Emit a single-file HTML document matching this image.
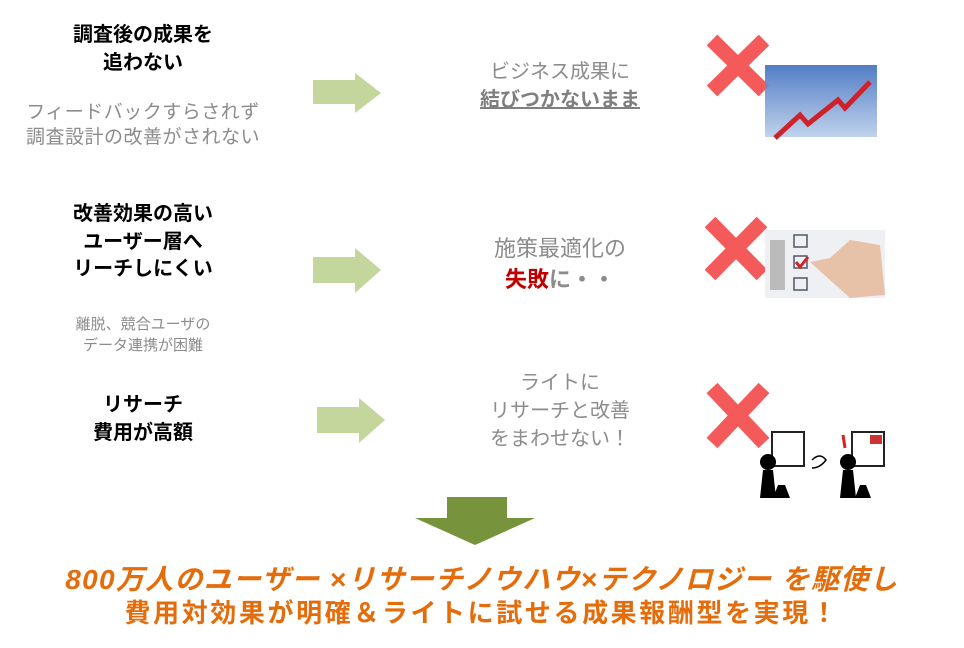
<!DOCTYPE html>
<html><head><meta charset="utf-8"><style>
body{margin:0;width:964px;height:648px;background:#fff;position:relative;overflow:hidden;font-family:"Liberation Sans","Noto Sans CJK JP",sans-serif}
.t{position:absolute;text-align:center;white-space:nowrap}
.b{font-weight:bold;color:#000;font-size:20px;line-height:28px}
.g{color:#8c8c8c}
.arr{position:absolute}
</style></head><body>
<div class="t b" style="left:43px;width:200px;top:21px">調査後の成果を<br>追わない</div>
<div class="t g" style="left:3px;width:280px;top:100px;font-size:19px;line-height:25px;letter-spacing:0.5px">フィードバックすらされず<br>調査設計の改善がされない</div>
<div class="t b" style="left:43px;width:200px;top:201px;line-height:27.5px">改善効果の高い<br>ユーザー層へ<br>リーチしにくい</div>
<div class="t g" style="left:43px;width:200px;top:314px;font-size:15px;line-height:21px">離脱、競合ユーザの<br>データ連携が困難</div>
<div class="t b" style="left:43px;width:200px;top:391px">リサーチ<br>費用が高額</div>

<svg class="arr" style="left:0;top:0" width="964" height="648">
<polygon points="313,80 355,80 355,73 381,93 355,113 355,104 313,104" fill="#c3d69b"/>
<polygon points="313,257 355,257 355,248 381,270 355,293 355,283 313,283" fill="#c3d69b"/>
<polygon points="317,407 359,407 359,398 385,420 359,443 359,433 317,433" fill="#c3d69b"/>
<polygon points="447,497 507,497 507,518 535,518 475,545 415,518 447,518" fill="#77933c"/>
<g stroke="#f45a5a" stroke-width="15" stroke-linecap="butt">
<line x1="712" y1="40" x2="764" y2="91"/><line x1="764" y1="40" x2="712" y2="91"/>
<line x1="710" y1="222" x2="762" y2="275"/><line x1="762" y1="222" x2="710" y2="275"/>
<line x1="712" y1="388" x2="764" y2="443"/><line x1="764" y1="388" x2="712" y2="443"/>
</g>
<defs><linearGradient id="bl" x1="0" y1="0" x2="0" y2="1"><stop offset="0" stop-color="#3f6fbf"/><stop offset="1" stop-color="#b9cdea"/></linearGradient></defs>
<rect x="765" y="65" width="112" height="72" fill="url(#bl)" opacity="0.9"/>
<polyline points="775,138 800,115 808,124 838,100 845,108 870,82" fill="none" stroke="#d0202a" stroke-width="5"/>
<rect x="765" y="230" width="120" height="68" fill="#eef0f4"/>
<rect x="770" y="240" width="15" height="50" fill="#bbb"/>
<g fill="none" stroke="#556" stroke-width="1.5"><rect x="794" y="235" width="13" height="12"/><rect x="794" y="256" width="13" height="12"/><rect x="794" y="278" width="13" height="12"/></g>
<polyline points="796,262 800,267 808,257" fill="none" stroke="#d0202a" stroke-width="3"/>
<path d="M810 262 L830 258 L850 240 L880 245 L885 295 L850 298 Z" fill="#e8c2a8"/>
<g fill="#fff" stroke="#222" stroke-width="2"><rect x="772" y="432" width="32" height="34"/><rect x="852" y="432" width="32" height="34"/></g>
<rect x="870" y="435" width="12" height="9" fill="#c33"/>
<polygon points="778,485 785,485 790,498 773,498" fill="#000"/>
<circle cx="768" cy="462" r="8" fill="#000"/><polygon points="763,470 773,470 776,498 760,498" fill="#000"/>
<circle cx="848" cy="462" r="8" fill="#000"/><polygon points="843,470 853,470 856,498 840,498" fill="#000"/>
<polygon points="860,485 866,485 871,498 855,498" fill="#000"/>
<path d="M812 460 Q820 452 826 460 Q820 468 812 468" fill="none" stroke="#000" stroke-width="1.5"/>
<line x1="843" y1="435" x2="845" y2="448" stroke="#d22" stroke-width="3"/>
</svg>

<div class="t g" style="left:430px;width:260px;top:58px;font-size:20px;line-height:28px">ビジネス成果に<br><b style="color:#7f7f7f;text-decoration:underline">結びつかないまま</b></div>
<div class="t g" style="left:430px;width:260px;top:233px;font-size:22px;line-height:31px">施策最適化の<br><b style="color:#c00000">失敗</b><b style="color:#8c8c8c">に・・</b></div>
<div class="t g" style="left:430px;width:260px;top:369px;font-size:20px;line-height:28px">ライトに<br>リサーチと改善<br>をまわせない！</div>

<div class="t" style="left:0;width:964px;top:563px;font-size:28px;font-weight:bold;font-style:italic;color:#e46c0a;line-height:34px;letter-spacing:1.3px">800万人のユーザー ×リサーチノウハウ×テクノロジー を駆使し</div>
<div class="t" style="left:0;width:964px;top:597px;font-size:26px;font-weight:bold;color:#e46c0a;line-height:32px;letter-spacing:2.6px">費用対効果が明確＆ライトに試せる成果報酬型を実現！</div>
</body></html>
